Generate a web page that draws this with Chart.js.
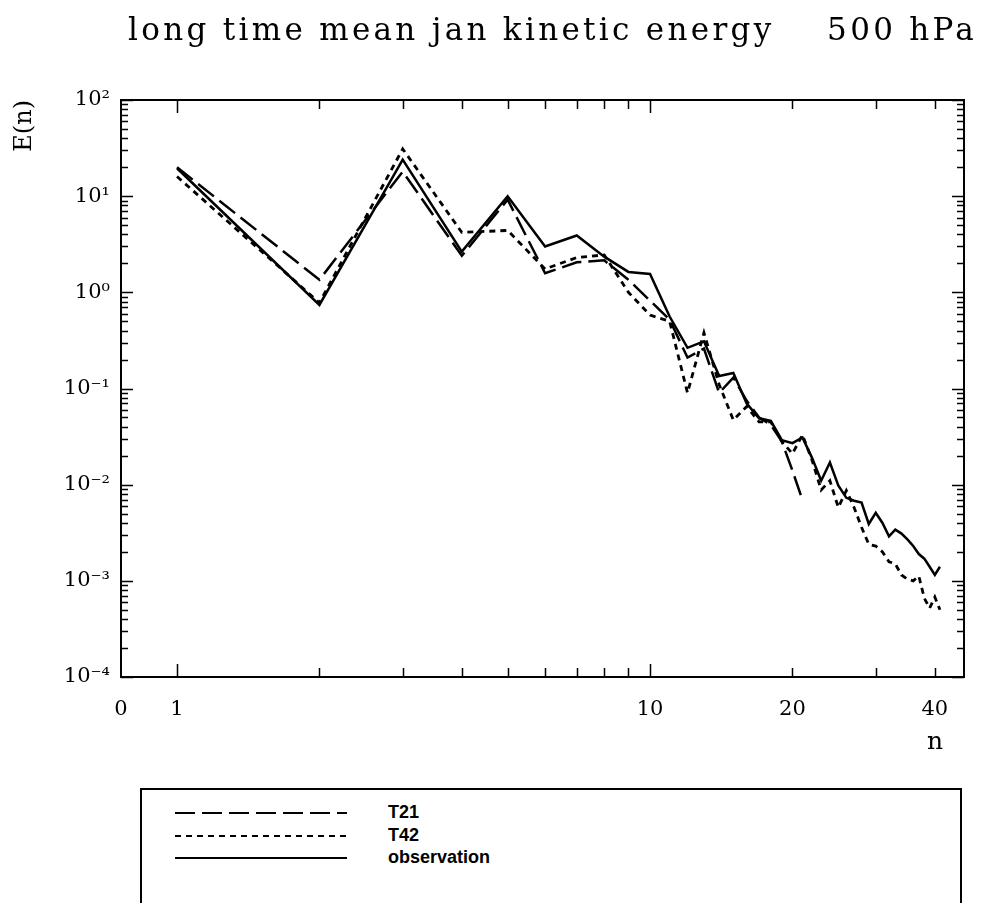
<!DOCTYPE html>
<html>
<head>
<meta charset="utf-8">
<script src="https://cdn.jsdelivr.net/npm/chart.js@4.4.0/dist/chart.umd.min.js"></script>
<style>
html,body{margin:0;padding:0;background:#fff;}
#wrap{position:relative;width:985px;height:903px;overflow:hidden;background:#fff;}
#chart{position:absolute;left:0;top:0;}
#title{position:absolute;left:128px;top:11px;font-family:"DejaVu Serif";font-size:31px;letter-spacing:3.3px;white-space:pre;color:#000;}
#nlab{position:absolute;left:927px;top:726px;font-family:"DejaVu Serif";font-size:25px;color:#000;}
#legend{position:absolute;left:140px;top:788px;width:822px;height:140px;border:2px solid #000;box-sizing:border-box;}
#legend .row{position:absolute;left:0;height:20px;width:100%;}
#legend svg{position:absolute;left:33px;top:0;}
#legend span{position:absolute;left:246px;top:-1px;font-family:"Liberation Sans";font-weight:bold;font-size:18px;color:#000;}
</style>
</head>
<body>
<div id="wrap">
  <canvas id="chart" width="985" height="770"></canvas>
  <div id="title">long time mean jan kinetic energy    500 hPa</div>
  <div id="nlab">n</div>
  <div id="legend"></div>
</div>
<script>
// wavenumber n
const nValues = [1,2,3,4,5,6,7,8,9,10,11,12,13,14,15,16,17,18,19,20,
                 21,22,23,24,25,26,27,28,29,30,31,32,33,34,35,36,37,38,39,40,41];

// E(n), T21 run (n = 1..21)
const t21 = [20, 1.35, 18, 2.4, 9.2, 1.58, 2.05, 2.15, 1.35, 0.82,
             0.52, 0.21, 0.26, 0.09, 0.13, 0.075, 0.05, 0.042, 0.028, 0.014, 0.0069];

// E(n), T42 run
const t42 = [16, 0.78, 31, 4.2, 4.4, 1.75, 2.3, 2.45, 1.0, 0.58,
             0.5, 0.09, 0.38, 0.11, 0.047, 0.065, 0.045, 0.045, 0.028, 0.021,
             0.033, 0.018, 0.0088, 0.011, 0.0058, 0.0087, 0.0058, 0.0036, 0.0024, 0.0023,
             0.002, 0.00158, 0.0015, 0.00115, 0.00104, 0.001, 0.00112, 0.00066, 0.00052, 0.00068,
             0.0005];

// E(n), observation
const obs = [19.5, 0.74, 24, 2.65, 10, 3.0, 3.9, 2.35, 1.63, 1.55,
             0.56, 0.265, 0.31, 0.135, 0.145, 0.07, 0.049, 0.046, 0.029, 0.027,
             0.031, 0.019, 0.011, 0.017, 0.0098, 0.0073, 0.0068, 0.0065, 0.0039, 0.0051,
             0.004, 0.0029, 0.0034, 0.0031, 0.0027, 0.0023, 0.0019, 0.0017, 0.0014, 0.00115,
             0.0014];

// axis
const xMin = 0.7614, xMax = 46.1;
const xLabelValues = [xMin, 1, 10, 20, 40];
const xTickLabels = ['0', '1', '10', '20', '40'];
const xMajorTicks = [1, 10];
const xMinorTicks = [2,3,4,5,6,7,8,9,20,30,40];
const yDecades = [1e-4, 1e-3, 1e-2, 1e-1, 1, 10, 100];
const yTickLabels = ['10\u207B\u2074','10\u207B\u00B3','10\u207B\u00B2','10\u207B\u00B9','10\u2070','10\u00B9','10\u00B2'];
const yMinorFactors = [2,3,4,5,6,7,8,9];

function pts(arr){ return arr.map((v,i) => ({x: nValues[i], y: v})); }

const frameTicks = {
  id: 'frameTicks',
  afterDatasetsDraw(chart){
    const {ctx, chartArea: a, scales: {x, y}} = chart;
    ctx.save();
    ctx.strokeStyle = '#000';
    ctx.lineWidth = 2;
    ctx.strokeRect(a.left, a.top, a.right - a.left, a.bottom - a.top);
    ctx.lineWidth = 1.5;
    ctx.beginPath();
    const xt = (v, len) => {
      const p = Math.round(x.getPixelForValue(v)) + 0.5;
      ctx.moveTo(p, a.bottom); ctx.lineTo(p, a.bottom - len);
      ctx.moveTo(p, a.top); ctx.lineTo(p, a.top + len);
    };
    const yt = (v, len) => {
      const p = Math.round(y.getPixelForValue(v)) + 0.5;
      ctx.moveTo(a.left, p); ctx.lineTo(a.left + len, p);
      ctx.moveTo(a.right, p); ctx.lineTo(a.right - len, p);
    };
    xMajorTicks.forEach(v => xt(v, 13));
    xMinorTicks.forEach(v => xt(v, 9));
    yDecades.forEach((d, i) => {
      yt(d, 12);
      if (i < yDecades.length - 1) yMinorFactors.forEach(f => yt(d * f, 7));
    });
    ctx.stroke();
    ctx.restore();
  }
};

const chart = new Chart(document.getElementById('chart'), {
  type: 'line',
  data: {
    datasets: [
      {label: 'T21', data: pts(t21), borderColor: '#000', borderWidth: 2.5, borderDash: [20, 7], pointRadius: 0, fill: false, tension: 0},
      {label: 'T42', data: pts(t42), borderColor: '#000', borderWidth: 2.8, borderDash: [6, 5], pointRadius: 0, fill: false, tension: 0},
      {label: 'observation', data: pts(obs), borderColor: '#000', borderWidth: 2.5, pointRadius: 0, fill: false, tension: 0}
    ]
  },
  options: {
    responsive: false,
    animation: false,
    devicePixelRatio: 1,
    layout: {padding: {left: 0, right: 21, top: 100, bottom: 0}},
    plugins: {legend: {display: false}, tooltip: {enabled: false}},
    scales: {
      x: {
        type: 'logarithmic',
        min: xMin,
        max: xMax,
        afterBuildTicks: s => { s.ticks = xLabelValues.map(v => ({value: v})); },
        afterFit: s => { s.height = 93; },
        grid: {display: false},
        border: {display: false},
        ticks: {
          autoSkip: false, maxRotation: 0, padding: 12, color: '#000',
          font: {family: 'DejaVu Serif', size: 21},
          callback: (v, i) => xTickLabels[i]
        }
      },
      y: {
        type: 'logarithmic',
        min: 1e-4,
        max: 100,
        afterBuildTicks: s => { s.ticks = yDecades.map(v => ({value: v})); },
        afterFit: s => { s.width = 121; },
        grid: {display: false},
        border: {display: false},
        ticks: {
          autoSkip: false, padding: 3, color: '#000',
          font: {family: 'DejaVu Serif', size: 21},
          callback: (v, i) => yTickLabels[i]
        },
        title: {
          display: true, text: 'E(n)', align: 'end', color: '#000',
          font: {family: 'DejaVu Serif', size: 24},
          padding: {top: 10, bottom: 0}
        }
      }
    }
  },
  plugins: [frameTicks]
});

// legend built from the chart's datasets
(function buildLegend(){
  const box = document.getElementById('legend');
  chart.data.datasets.forEach((ds, i) => {
    const row = document.createElement('div');
    row.className = 'row';
    row.style.top = (13 + i * 22.5) + 'px';
    const dash = (ds.borderDash || []).join(' ');
    row.innerHTML = '<svg width="172" height="20"><line x1="0" y1="10" x2="172" y2="10" stroke="#000" stroke-width="1.8"' +
      (dash ? ' stroke-dasharray="' + dash + '"' : '') + '/></svg><span>' + ds.label + '</span>';
    box.appendChild(row);
  });
})();
</script>
</body>
</html>
